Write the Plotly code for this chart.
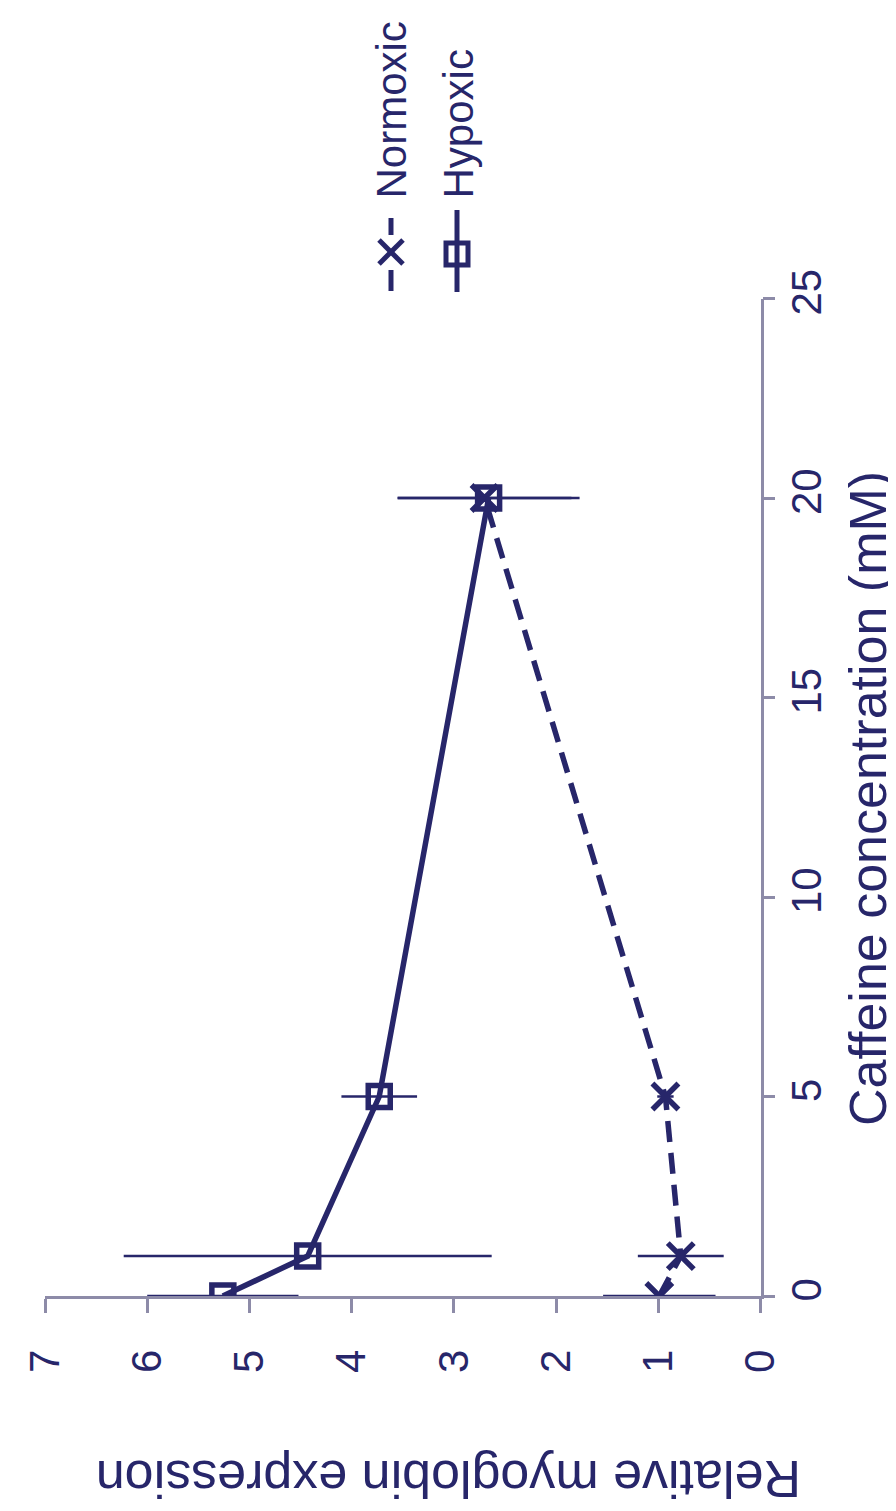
import plotly.graph_objects as go

# Data
caffeine_mM = [0, 1, 5, 20]
normoxic = [0.99, 0.78, 0.93, 2.70]
normoxic_err = [0.55, 0.42, 0.08, 0.85]
hypoxic = [5.26, 4.43, 3.73, 2.66]
hypoxic_err = [0.74, 1.80, 0.37, 0.89]

expr_ticks = [0, 1, 2, 3, 4, 5, 6, 7]
caf_ticks = [0, 5, 10, 15, 20, 25]

NAVY = "#27266A"
GREY = "#8D8BA8"
FONT = "Liberation Sans, Arial, Helvetica, sans-serif"
W, H = 896, 1511

def px(x):
    return x / W

def py(y):
    return 1 - y / H

fig = go.Figure()

fig.add_trace(go.Scatter(
    x=normoxic, y=caffeine_mM, mode="lines+markers", name="Normoxic",
    line=dict(color=NAVY, width=5.5, dash="21px,11px"),
    marker=dict(symbol="x-thin-open", size=26, line=dict(color=NAVY, width=5.5)),
    error_x=dict(type="data", array=normoxic_err, visible=True, color=NAVY, thickness=2.5, width=0),
    showlegend=False,
))
fig.add_trace(go.Scatter(
    x=hypoxic, y=caffeine_mM, mode="lines+markers", name="Hypoxic",
    line=dict(color=NAVY, width=5.5),
    marker=dict(symbol="square-open", size=22, line=dict(color=NAVY, width=5.5)),
    error_x=dict(type="data", array=hypoxic_err, visible=True, color=NAVY, thickness=2.5, width=0),
    showlegend=False,
))

fig.update_layout(
    width=W, height=H,
    margin=dict(l=0, r=0, t=0, b=0),
    paper_bgcolor="white", plot_bgcolor="white",
    font=dict(family=FONT, color=NAVY),
    xaxis=dict(
        domain=[px(37), px(752.5)], range=[7, 0], autorange=False,
        tickvals=expr_ticks, ticktext=[str(t) for t in expr_ticks],
        showline=True, linecolor=GREY, linewidth=2.5,
        ticks="outside", ticklen=14, tickwidth=2.5, tickcolor=GREY,
        tickangle=-90, tickfont=dict(size=42, color=NAVY, family=FONT),
        ticklabelstandoff=20,
        showgrid=False, zeroline=False, automargin=False,
    ),
    yaxis=dict(
        domain=[1 - 1288 / H, 1 - 290.5 / H], range=[0, 25], autorange=False,
        side="right", tickvals=caf_ticks, ticktext=[str(t) for t in caf_ticks],
        showline=True, linecolor=GREY, linewidth=2.5,
        ticks="outside", ticklen=12, tickwidth=2.5, tickcolor=GREY,
        tickangle=-90, tickfont=dict(size=42, color=NAVY, family=FONT),
        ticklabelstandoff=-5,
        showgrid=False, zeroline=False, automargin=False,
    ),
)

# Axis titles (rotated)
fig.add_annotation(
    x=px(860), y=py(791), xref="paper", yref="paper",
    text="Caffeine concentration (mM)", showarrow=False, textangle=-90,
    xanchor="center", yanchor="middle",
    font=dict(size=52, color=NAVY, family=FONT),
)
fig.add_annotation(
    x=px(441), y=py(1471), xref="paper", yref="paper",
    text="Relative myoglobin expression", showarrow=False, textangle=180,
    xanchor="center", yanchor="middle",
    font=dict(size=52, color=NAVY, family=FONT),
)

# Custom rotated legend
shapes = []
# Normoxic: dash segments + X
for y0, y1 in ((210, 227), (262, 283)):
    shapes.append(dict(type="line", xref="paper", yref="paper",
                       x0=px(383), x1=px(383), y0=py(y0), y1=py(y1),
                       line=dict(color=NAVY, width=5)))
for dx in (-1, 1):
    shapes.append(dict(type="line", xref="paper", yref="paper",
                       x0=px(383 - 12), x1=px(383 + 12),
                       y0=py(244 - 12 * dx), y1=py(244 + 12 * dx),
                       line=dict(color=NAVY, width=5)))
# Hypoxic: solid line + square
shapes.append(dict(type="line", xref="paper", yref="paper",
                   x0=px(449), x1=px(449), y0=py(202), y1=py(284),
                   line=dict(color=NAVY, width=5)))
shapes.append(dict(type="rect", xref="paper", yref="paper",
                   x0=px(449 - 11), x1=px(449 + 11), y0=py(246 - 11), y1=py(246 + 11),
                   line=dict(color=NAVY, width=5)))
fig.update_layout(shapes=shapes)

fig.add_annotation(
    x=px(383), y=py(193), xref="paper", yref="paper", text="Normoxic",
    showarrow=False, textangle=-90, xanchor="center", yanchor="bottom",
    font=dict(size=42, color=NAVY, family=FONT),
)
fig.add_annotation(
    x=px(450), y=py(193), xref="paper", yref="paper", text="Hypoxic",
    showarrow=False, textangle=-90, xanchor="center", yanchor="bottom",
    font=dict(size=42, color=NAVY, family=FONT),
)

fig.write_html("out.html")
